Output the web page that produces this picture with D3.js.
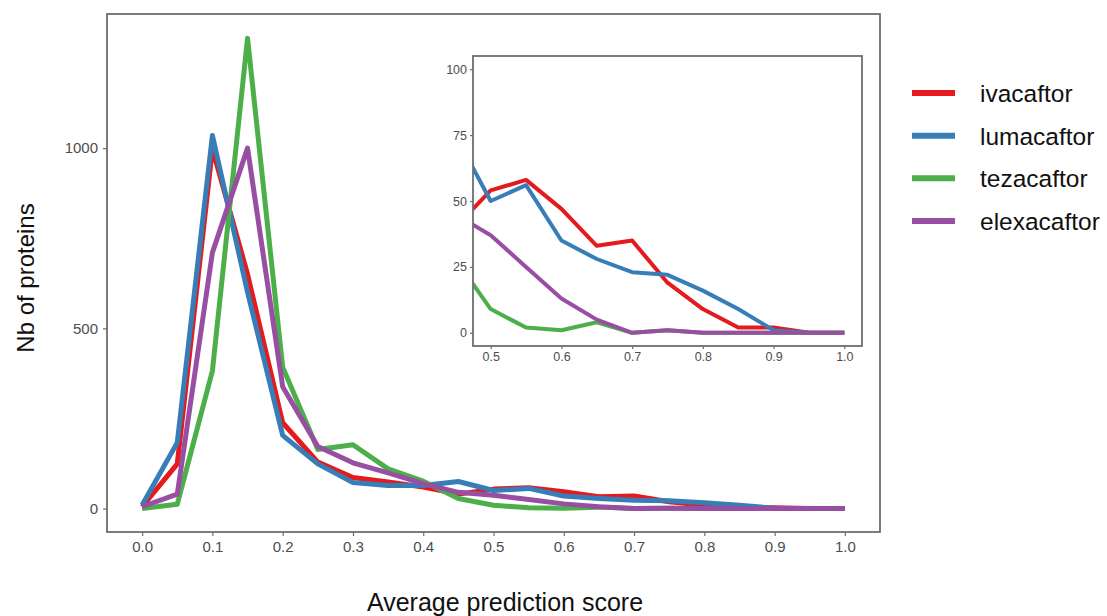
<!DOCTYPE html>
<html>
<head>
<meta charset="utf-8">
<script src="https://cdn.jsdelivr.net/npm/d3@7"></script>
<style>
  body { margin: 0; background: #fff; }
  text { font-family: "Liberation Sans", Arial, Helvetica, sans-serif; }
</style>
</head>
<body>
<svg id="chart" width="1107" height="616"></svg>
<script>
// data
const scores = [0.0, 0.05, 0.1, 0.15, 0.2, 0.25, 0.3, 0.35, 0.4, 0.45, 0.5,
  0.55, 0.6, 0.65, 0.7, 0.75, 0.8, 0.85, 0.9, 0.95, 1.0];
const drugs = ["ivacaftor", "lumacaftor", "tezacaftor", "elexacaftor"];
const colors = ["#E41A1C", "#377EB8", "#4DAF4A", "#984EA3"];
const ivacaftor = [5, 124, 998, 650, 238, 129, 86, 74, 60, 40, 54, 58, 47, 33, 35, 19, 9, 2, 2, 0, 0];
const lumacaftor = [10, 183, 1035, 600, 203, 124, 72, 64, 64, 75, 50, 56, 35, 28, 23, 22, 16, 9, 1, 0, 0];
const tezacaftor = [0, 12, 382, 1305, 392, 164, 177, 110, 76, 28, 9, 2, 1, 4, 0, 1, 0, 0, 0, 0, 0];
const elexacaftor = [5, 40, 710, 1000, 338, 172, 127, 99, 69, 45, 37, 25, 13, 5, 0, 1, 0, 0, 0, 0, 0];
const mainXTicks = [0, 0.1, 0.2, 0.3, 0.4, 0.5, 0.6, 0.7, 0.8, 0.9, 1.0];
const mainYTicks = [0, 500, 1000];
const insetXTicks = [0.5, 0.6, 0.7, 0.8, 0.9, 1.0];
const insetYTicks = [0, 25, 50, 75, 100];

const seriesValues = [ivacaftor, lumacaftor, tezacaftor, elexacaftor];
const series = drugs.map((name, i) => ({
  name,
  color: colors[i],
  values: scores.map((s, j) => ({ x: s, y: seriesValues[i][j] }))
}));

const svg = d3.select("#chart");
const borderColor = "#6e6e6e";
const tickColor = "#4d4d4d";

function drawPanel(g, opts) {
  const { x, y, xTicks, yTicks, fontSize, lineWidth, tickLen, xFmt, clipId } = opts;
  const [x0, x1] = x.range();
  const [y0, y1] = y.range();

  g.append("rect")
    .attr("x", x0).attr("y", y1)
    .attr("width", x1 - x0).attr("height", y0 - y1)
    .attr("fill", "#fff");

  g.append("clipPath").attr("id", clipId)
    .append("rect")
    .attr("x", x0).attr("y", y1)
    .attr("width", x1 - x0).attr("height", y0 - y1);

  const xAxis = d3.axisBottom(x).tickValues(xTicks).tickFormat(xFmt)
    .tickSize(tickLen).tickPadding(opts.xPad);
  const yAxis = d3.axisLeft(y).tickValues(yTicks).tickFormat(d3.format("d"))
    .tickSize(tickLen).tickPadding(opts.yPad);

  const gx = g.append("g").attr("transform", `translate(0,${y0})`).call(xAxis);
  const gy = g.append("g").attr("transform", `translate(${x0},0)`).call(yAxis);
  [gx, gy].forEach((a) => {
    a.select(".domain").remove();
    a.selectAll("line").attr("stroke", borderColor).attr("stroke-width", 1.2);
    a.selectAll("text").attr("fill", tickColor).style("font-size", fontSize + "px");
  });

  const line = d3.line()
    .x((d) => x(d.x))
    .y((d) => y(d.y));

  g.append("g").attr("clip-path", `url(#${clipId})`)
    .selectAll("path")
    .data(series)
    .enter()
    .append("path")
    .attr("d", (d) => line(d.values))
    .attr("fill", "none")
    .attr("stroke", (d) => d.color)
    .attr("stroke-width", lineWidth)
    .attr("stroke-linejoin", "round");

  g.append("rect")
    .attr("x", x0).attr("y", y1)
    .attr("width", x1 - x0).attr("height", y0 - y1)
    .attr("fill", "none")
    .attr("stroke", borderColor)
    .attr("stroke-width", 1.8);
}

// main panel
const mainX = d3.scaleLinear().domain([-0.05, 1.05]).range([107, 880]);
const mainY = d3.scaleLinear().domain([-65, 1372]).range([532, 14]);
drawPanel(svg.append("g"), {
  x: mainX, y: mainY, xTicks: mainXTicks, yTicks: mainYTicks,
  fontSize: 15, lineWidth: 5, tickLen: 4, xPad: 5, yPad: 5,
  xFmt: d3.format(".1f"), clipId: "clipMain"
});

// inset panel
const insetX = d3.scaleLinear().domain([0.475, 1.025]).range([473, 862]);
const insetY = d3.scaleLinear().domain([-5, 105]).range([346, 56]);
drawPanel(svg.append("g"), {
  x: insetX, y: insetY, xTicks: insetXTicks, yTicks: insetYTicks,
  fontSize: 12.5, lineWidth: 4, tickLen: 3, xPad: 3, yPad: 3,
  xFmt: d3.format(".1f"), clipId: "clipInset"
});

// axis titles
svg.append("text")
  .attr("x", 505).attr("y", 611)
  .attr("text-anchor", "middle")
  .style("font-size", "25px")
  .attr("fill", "#111")
  .text("Average prediction score");

svg.append("text")
  .attr("transform", "translate(34,278) rotate(-90)")
  .attr("text-anchor", "middle")
  .style("font-size", "24px")
  .attr("fill", "#111")
  .text("Nb of proteins");

// legend
const legendY = d3.scalePoint().domain(drugs).range([93, 221]);
const legend = svg.append("g");
legend.selectAll("line")
  .data(series)
  .enter()
  .append("line")
  .attr("x1", 912).attr("x2", 955)
  .attr("y1", (d) => legendY(d.name)).attr("y2", (d) => legendY(d.name))
  .attr("stroke", (d) => d.color)
  .attr("stroke-width", 6);
legend.selectAll("text")
  .data(series)
  .enter()
  .append("text")
  .attr("x", 980)
  .attr("y", (d) => legendY(d.name) + 9)
  .style("font-size", "24.5px")
  .attr("fill", "#111")
  .text((d) => d.name);
</script>
</body>
</html>
